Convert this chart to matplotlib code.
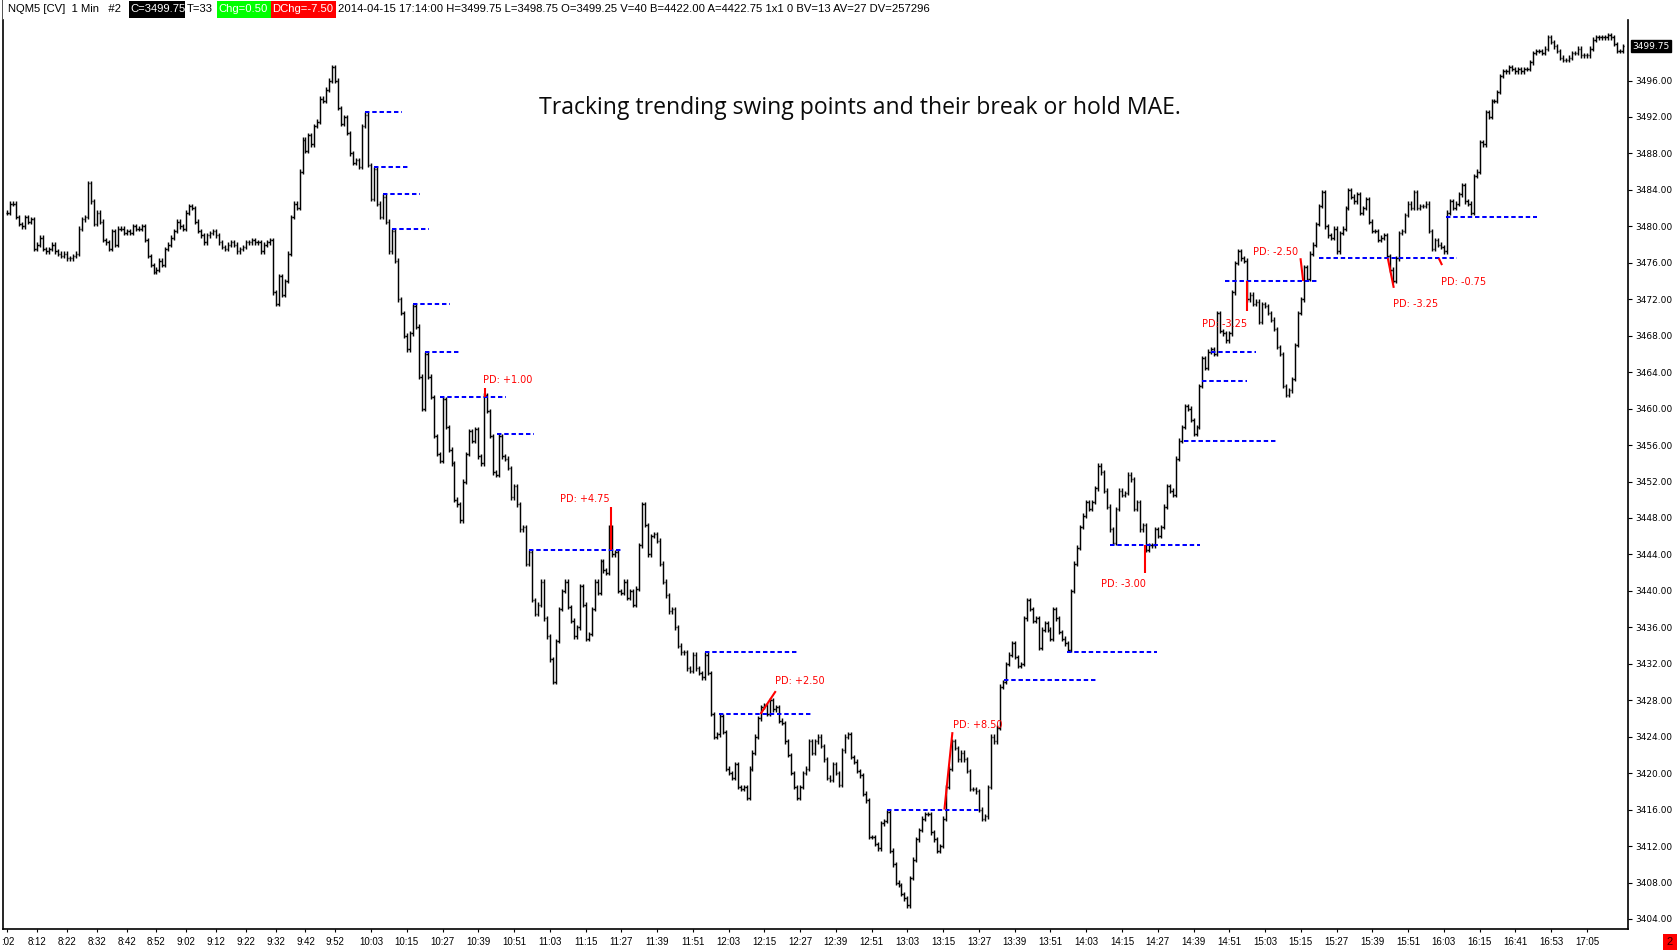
import numpy as np
import matplotlib
matplotlib.use("Agg")
import matplotlib.pyplot as plt
from matplotlib.collections import LineCollection
from matplotlib.patches import Rectangle
from matplotlib.transforms import offset_copy

W, H = 1681, 950

# 1 min closes, NQM5 2014-04-15 in session chunks
close_0802 = [
    3481.5, 3482.5, 3482.5, 3481.0, 3480.25, 3480.0, 3481.0, 3480.5, 3480.75, 3477.5,
    3478.0, 3478.75, 3477.5, 3477.25, 3477.5, 3478.0, 3477.25, 3477.0, 3476.75, 3477.0,
    3476.5, 3476.5, 3476.75, 3477.0, 3479.75, 3480.75, 3481.0, 3484.75, 3482.75, 3480.25,
    3481.5, 3480.5, 3478.5, 3478.25, 3477.5, 3479.5, 3478.0, 3479.75, 3479.75, 3479.25,
    3479.5, 3479.25, 3480.0, 3479.75, 3479.75, 3480.0, 3478.5, 3476.75, 3475.75, 3475.0,
    3475.25, 3476.25, 3475.75, 3477.5, 3478.0, 3478.75, 3479.5, 3480.5, 3480.0, 3479.75,
    3481.5, 3482.25, 3482.0, 3480.5, 3479.5, 3479.0, 3478.25, 3479.0, 3479.25, 3479.5,
    3479.0, 3478.25, 3477.75, 3477.5, 3478.0, 3478.25, 3478.0, 3477.25, 3477.5, 3477.75,
    3478.25, 3478.25, 3478.5, 3478.25, 3478.25, 3477.25, 3478.0, 3478.25, 3478.5, 3472.75,
    3471.5, 3474.5, 3472.5, 3474.0, 3477.0,
]
close_0937 = [
    3481.0, 3482.5, 3482.0, 3486.0, 3489.5,
    3488.25, 3490.0, 3489.0, 3491.0, 3491.5, 3494.0, 3493.75, 3495.0, 3496.0, 3497.5,
    3496.0, 3493.0, 3491.25, 3492.0, 3490.25, 3488.0, 3487.0, 3487.25, 3486.5, 3491.0,
    3492.25, 3486.75, 3483.0, 3486.25, 3482.5, 3481.0, 3483.25, 3480.5, 3477.25, 3479.5,
    3476.25, 3472.0, 3470.5, 3468.0, 3466.5, 3468.25, 3471.25, 3469.0, 3463.5, 3460.0,
    3466.0, 3463.5, 3461.25, 3457.0, 3455.0, 3454.25, 3461.0, 3458.0, 3455.5, 3454.0,
    3450.0, 3449.5, 3447.75, 3452.0, 3455.0, 3457.5, 3456.5, 3457.75, 3454.75, 3454.0,
    3461.5, 3459.75, 3457.0, 3453.0, 3452.75, 3457.0, 3454.75, 3454.5, 3453.5, 3450.25,
    3451.5, 3449.5, 3446.75, 3447.0, 3443.0, 3444.25, 3439.0, 3437.5, 3438.5, 3441.0,
    3437.0, 3435.0, 3432.5, 3430.0, 3434.5, 3438.0,
]
close_1108 = [
    3440.0, 3441.0, 3438.25, 3436.75,
    3435.0, 3436.0, 3440.5, 3438.5, 3434.75, 3435.25, 3438.0, 3441.0, 3439.75, 3443.25,
    3442.25, 3442.0, 3447.0, 3444.0, 3444.25, 3440.0, 3439.75, 3441.0, 3439.25, 3440.0,
    3438.5, 3440.25, 3445.0, 3449.5, 3447.25, 3444.0, 3446.0, 3446.25, 3445.5, 3443.0,
    3441.0, 3439.5, 3437.75, 3438.0, 3436.0, 3434.0, 3433.25, 3433.25, 3431.5, 3431.25,
    3433.0, 3431.5, 3431.0, 3430.5, 3433.0, 3431.0, 3426.5, 3424.0, 3424.25, 3426.25,
    3424.5, 3420.5, 3420.0, 3419.5, 3421.0, 3418.5, 3418.25, 3418.5, 3417.25, 3420.5,
    3422.25, 3424.0, 3426.0, 3427.25, 3427.5, 3426.5, 3428.0, 3427.0, 3427.25, 3425.75,
    3425.5, 3423.5, 3422.0, 3420.0, 3418.5, 3417.25, 3418.5, 3420.0, 3420.5, 3423.5,
    3422.25, 3423.5, 3424.0, 3423.0, 3421.5, 3419.5, 3419.25, 3421.0, 3420.0, 3418.75,
    3422.5, 3424.0, 3424.25,
]
close_1245 = [
    3421.75, 3421.25, 3420.25, 3419.75, 3417.75, 3417.0, 3413.0,
    3413.0, 3412.25, 3411.75, 3414.5, 3414.75, 3415.75, 3411.5, 3410.0, 3408.0, 3407.75,
    3406.75, 3406.25, 3405.5, 3408.5, 3410.5, 3412.75, 3413.75, 3415.0, 3415.5, 3415.5,
    3413.5, 3412.75, 3411.5, 3412.0, 3415.0, 3418.5, 3420.5, 3423.5, 3422.75, 3421.5,
    3422.25, 3421.5, 3420.25, 3418.25, 3418.25, 3418.0, 3416.0, 3415.0, 3415.25, 3418.5,
    3424.0, 3423.5, 3425.0, 3429.5, 3430.0, 3432.0, 3433.0, 3434.25, 3432.75, 3431.75,
    3432.0, 3437.0, 3439.0, 3438.0, 3436.75, 3437.0, 3433.75, 3435.75, 3436.5, 3435.75,
    3434.75, 3438.0, 3437.0, 3435.5, 3434.75, 3434.25, 3433.5, 3440.0, 3443.0, 3444.75,
    3447.0, 3448.25, 3449.75, 3449.0, 3449.75, 3451.25, 3453.75, 3453.0, 3451.0, 3449.25,
    3446.75, 3445.25, 3449.0,
]
close_1415 = [
    3451.0, 3450.5, 3450.75, 3452.75, 3452.25, 3449.0, 3449.75,
    3446.75, 3447.25, 3444.5, 3445.0, 3445.0, 3446.75, 3446.0, 3447.0, 3449.25, 3451.5,
    3451.0, 3450.5, 3454.5, 3456.5, 3458.0, 3460.25, 3460.0, 3458.75, 3457.25, 3458.0,
    3462.5, 3465.5, 3464.5, 3466.25, 3466.5, 3466.0, 3470.5, 3468.5, 3468.25, 3467.5,
    3468.25, 3472.75, 3476.0, 3477.25, 3476.5, 3476.25, 3472.0, 3472.5, 3471.5, 3471.75,
    3469.5, 3471.5, 3471.25, 3470.5, 3469.75, 3468.75, 3466.75, 3466.0, 3462.5, 3461.5,
    3462.0, 3463.25, 3467.0, 3470.5, 3472.0, 3475.5, 3474.25, 3477.0, 3478.0, 3480.25,
    3482.25, 3483.75, 3480.0, 3479.0, 3478.75, 3479.75, 3477.25, 3479.25, 3479.75, 3482.0,
    3484.0, 3483.25, 3482.75, 3483.5, 3481.5, 3482.0, 3483.0, 3480.5, 3479.5, 3479.5,
    3478.5, 3478.75, 3479.0, 3476.75, 3475.25, 3474.0, 3476.5, 3479.25,
]
close_1551 = [
    3479.5, 3481.25,
    3482.5, 3482.0, 3483.75, 3482.0, 3482.25, 3482.25, 3482.5, 3479.5, 3477.5, 3478.5,
    3478.0, 3477.75, 3477.25, 3481.5, 3482.75, 3482.0, 3482.5, 3483.5, 3484.5, 3482.75,
    3482.5, 3481.5, 3485.5, 3486.0, 3489.25, 3489.0, 3492.5, 3492.0, 3493.75, 3493.75,
    3494.75, 3496.5, 3497.0, 3497.0, 3497.5, 3497.25, 3497.0, 3497.25, 3497.0, 3497.25,
    3497.25, 3498.0, 3499.0, 3499.25, 3499.25, 3499.0, 3499.5, 3500.75, 3500.25, 3499.75,
    3499.25, 3498.5, 3498.25, 3498.25, 3498.5, 3499.0, 3499.0, 3499.5, 3498.75, 3498.75,
    3498.75, 3499.5, 3500.5, 3500.75, 3500.75, 3500.75, 3500.75, 3501.0, 3500.75, 3500.0,
    3499.25, 3499.25, 3499.75,
]

# swing levels: price, first bar, last bar
level_price = [3492.50, 3486.50, 3483.50, 3479.75, 3471.50, 3466.25, 3461.25, 3457.25,
               3444.50, 3433.25, 3426.50, 3416.00, 3430.25, 3433.25, 3445.00, 3456.50,
               3463.00, 3466.25, 3474.00, 3476.50, 3481.00]
level_start = [120.0, 123.0, 126.0, 129.0, 136.0, 140.0, 145.3, 164.3,
               175.0, 234.0, 238.7, 295.2, 334.3, 355.5, 370.0, 394.7,
               400.9, 403.7, 408.7, 440.0, 482.6]
level_end = [132.4, 135.2, 138.4, 141.4, 148.4, 152.3, 167.4, 176.6,
             206.3, 265.0, 269.7, 326.5, 365.6, 385.8, 400.3, 426.0,
             416.0, 418.8, 440.0, 486.5, 513.3]

# penetration (PD) marks: segment from level to extreme, and their labels
pd_x0 = [160.1, 202.4, 252.7, 314.4, 381.8, 416.0, 433.9, 463.2, 480.3]
pd_y0 = [3461.25, 3444.50, 3426.50, 3416.00, 3445.00, 3474.00, 3476.50, 3476.50, 3476.50]
pd_x1 = [160.1, 202.4, 257.8, 317.1, 381.8, 416.0, 434.8, 465.2, 481.4]
pd_y1 = [3462.25, 3449.25, 3429.00, 3424.50, 3442.00, 3470.75, 3474.00, 3473.25, 3475.75]
pd_text = ["PD: +1.00", "PD: +4.75", "PD: +2.50", "PD: +8.50", "PD: -3.00",
           "PD: -3.25", "PD: -2.50", "PD: -3.25", "PD: -0.75"]
pd_lx = [159.6, 185.4, 257.6, 317.2, 367.0, 400.7, 418.0, 464.8, 481.0]
pd_ly = [3463.1, 3450.05, 3430.1, 3425.3, 3440.75, 3469.25, 3477.2, 3471.5, 3473.9]

time_labels = [":02", "8:12", "8:22", "8:32", "8:42", "8:52", "9:02", "9:12", "9:22",
               "9:32", "9:42", "9:52", "10:03", "10:15", "10:27", "10:39", "10:51",
               "11:03", "11:15", "11:27", "11:39", "11:51", "12:03", "12:15", "12:27",
               "12:39", "12:51", "13:03", "13:15", "13:27", "13:39", "13:51", "14:03",
               "14:15", "14:27", "14:39", "14:51", "15:03", "15:15", "15:27", "15:39",
               "15:51", "16:03", "16:15", "16:41", "16:53", "17:05"]
time_bars = list(range(0, 120, 10)) + list(range(122, 531, 12))

last_price = 3499.75

closes = np.array(close_0802 + close_0937 + close_1108 + close_1245 + close_1415 + close_1551)
n = len(closes)
xs = np.arange(n)
opens = np.r_[closes[0], closes[:-1]]
highs = np.maximum(opens, closes) + 0.25
lows = np.minimum(opens, closes) - 0.25

fig = plt.figure(figsize=(W / 100, H / 100), dpi=100)
fig.patch.set_facecolor("white")
ax = fig.add_axes([3 / W, 21 / H, 1625 / W, 909 / H])
ax.set_xlim(-1.51, 543.8)
ax.set_ylim(3402.9, 3502.64)

segs = []
for x, o, hi, lo, c in zip(xs, opens, highs, lows, closes):
    segs.append([(x, lo), (x, hi)])
    segs.append([(x - 0.45, o), (x, o)])
    segs.append([(x, c), (x + 0.45, c)])
ax.add_collection(LineCollection(segs, colors="black", linewidths=1.05))

for p, a, b in zip(level_price, level_start, level_end):
    ax.plot([a, b], [p, p], color="#0000ff", lw=1.45, linestyle=(0, (2.2, 1.4)),
            solid_capstyle="butt", dash_capstyle="butt")

for x0, y0, x1, y1 in zip(pd_x0, pd_y0, pd_x1, pd_y1):
    ax.plot([x0, x1], [y0, y1], color="#ff0000", lw=1.5, solid_capstyle="butt")
for tx, ty, s in zip(pd_lx, pd_ly, pd_text):
    ax.text(tx, ty, s, color="#ff0000", fontsize=7, family="DejaVu Sans",
            ha="left", va="center")

fig.text(860 / W, 1 - 108 / H, "Tracking trending swing points and their break or hold MAE.",
         ha="center", va="center", fontsize=16.6, family="Open Sans", color="#0a0a0a")

# axes frame and ticks
ax.spines["top"].set_visible(False)
for side in ("left", "right", "bottom"):
    ax.spines[side].set_color("black")
    ax.spines[side].set_linewidth(1.2)
ax.yaxis.tick_right()
yt = np.arange(3404, 3497, 4)
ax.set_yticks(yt)
ax.set_yticklabels([f"{v:.2f}" for v in yt], family="DejaVu Sans", fontsize=6.5)
ax.tick_params(axis="y", direction="out", length=3, width=0.8, pad=2)
ax.set_xticks(time_bars)
ax.set_xticklabels(time_labels, family="Liberation Sans", fontsize=7)
ax.tick_params(axis="x", direction="out", length=2, width=0.8, pad=4)

tag_tr = offset_copy(ax.get_yaxis_transform(), fig=fig, x=4, y=0, units="dots")
ax.text(1.0, last_price, f"{last_price:.2f}", transform=tag_tr, ha="left", va="center",
        fontsize=6.5, family="DejaVu Sans", color="white",
        bbox=dict(boxstyle="square,pad=0.15", fc="black", ec="black"))

# header strip
def px_rect(x0, x1, color):
    fig.add_artist(Rectangle((x0 / W, 1 - 18 / H), (x1 - x0) / W, 17 / H,
                             transform=fig.transFigure, fc=color, ec="none"))

def px_text(x, s, color="black"):
    fig.text(x / W, 1 - 9.5 / H, s, ha="left", va="center", fontsize=8.1,
             family="Liberation Sans", color=color)

fig.add_artist(Rectangle((2 / W, 1 - 19 / H), 1 / W, 19 / H, transform=fig.transFigure,
                         fc="#555555", ec="none"))
px_text(8, "NQM5 [CV]  1 Min   #2")
px_rect(129, 185, "black")
px_text(130, "C=3499.75", "white")
px_text(187, "T=33")
px_rect(217, 271, "#00ff00")
px_text(218, "Chg=0.50", "white")
px_rect(271, 336, "#ff0000")
px_text(272, "DChg=-7.50", "white")
px_text(338, "2014-04-15 17:14:00 H=3499.75 L=3498.75 O=3499.25 V=40 B=4422.00 "
             "A=4422.75 1x1 0 BV=13 AV=27 DV=257296")

# small red marker bottom right
fig.add_artist(Rectangle((1663 / W, 1 - 950 / H), 14 / W, 16 / H, transform=fig.transFigure,
                         fc="#ff0000", ec="none"))
fig.text(1670 / W, 1 - 942 / H, "2", ha="center", va="center", fontsize=8,
         family="Liberation Sans", color="#330000")

fig.savefig("out.png", dpi=100)
